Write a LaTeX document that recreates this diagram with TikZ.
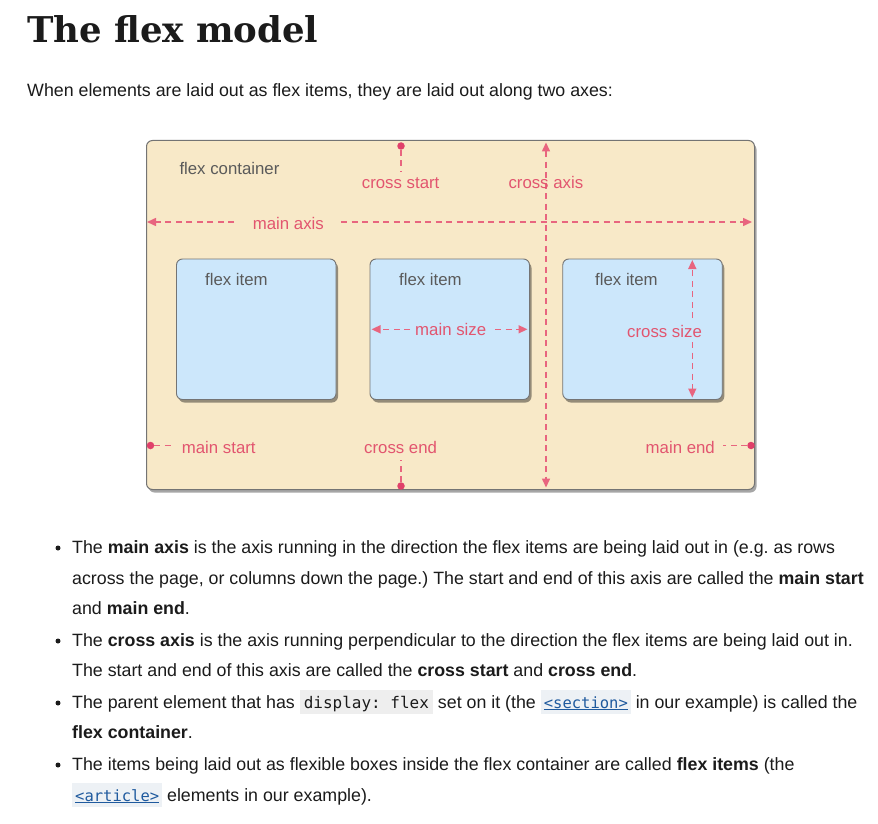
\documentclass[tikz,border=0pt]{standalone}
\usepackage{fontspec}
\setmainfont{Liberation Sans}
\setmonofont{DejaVu Sans Mono}
\newfontfamily\diagfont{Liberation Sans}
\newfontfamily\titlefont{DejaVu Serif}
\usetikzlibrary{shadows,arrows.meta}
\frenchspacing
\definecolor{beige}{HTML}{F8E9C8}
\definecolor{itemblue}{HTML}{CCE7FB}
\definecolor{boxborder}{HTML}{747474}
\definecolor{pinktext}{HTML}{E2556F}
\definecolor{pinkline}{HTML}{E8657F}
\definecolor{pinkdot}{HTML}{E0406A}
\definecolor{graytext}{HTML}{5A5A5A}
\definecolor{bodyc}{HTML}{1B1B1B}
\definecolor{codebg}{HTML}{EEEEEE}
\definecolor{linkbg}{HTML}{EDF1F5}
\definecolor{linkblue}{HTML}{1F5A9E}
\newcommand\mycode[1]{{\setlength{\fboxsep}{0pt}\colorbox{codebg}{\rule[-6pt]{0pt}{24pt}\hspace{4pt}{\ttfamily\fontsize{16}{16}\selectfont #1}\hspace{4pt}}}}
\newcommand\mylink[1]{{\setlength{\fboxsep}{0pt}\colorbox{linkbg}{\rule[-6pt]{0pt}{24pt}\hspace{3pt}{\ttfamily\fontsize{15.5}{15.5}\selectfont\color{linkblue}\underline{#1}}\hspace{3pt}}}}
\tikzset{
  container/.style={draw=boxborder, line width=1pt, fill=beige, rounded corners=6pt,
    minimum width=608pt, minimum height=349pt, inner sep=0pt,
    drop shadow={shadow xshift=2pt, shadow yshift=-3pt, fill=black, opacity=0.35}},
  itembox/.style={draw=boxborder, line width=0.9pt, fill=itemblue, rounded corners=6pt,
    minimum width=159.5pt, minimum height=140.5pt, inner sep=0pt,
    drop shadow={shadow xshift=2pt, shadow yshift=-3pt, fill=black, opacity=0.4}},
  lbl/.style={text=pinktext, font=\diagfont\fontsize{16.8}{18}\selectfont, anchor=base west, inner sep=0pt},
  glbl/.style={text=graytext, font=\diagfont\fontsize{16.8}{18}\selectfont, anchor=base west, inner sep=0pt},
  axisline/.style={draw=pinkline, line width=1.5pt, dash pattern=on 6pt off 4.5pt},
  tipend/.style={-{Triangle[length=9pt,width=8pt]}},
  tipboth/.style={{Triangle[length=9pt,width=8pt]}-{Triangle[length=9pt,width=8pt]}},
  dotn/.style={circle, fill=pinkdot, inner sep=0pt, minimum size=7.5pt},
  bodytext/.style={anchor=base west, inner sep=0pt, text=bodyc, font=\fontsize{17.8}{20}\selectfont},
  bulletdot/.style={circle, fill=bodyc, inner sep=0pt, minimum size=5pt}
}
\begin{document}
\begin{tikzpicture}[x=1pt,y=-1pt]
\path[use as bounding box, fill=white] (0,0) rectangle (878,824);

% title and intro
\node[anchor=base west, inner sep=0pt, text=bodyc, font=\titlefont\bfseries\fontsize{35.5}{40}\selectfont] (title) at (27,43) {The flex model};
\node[bodytext] (intro) at (27,97) {When elements are laid out as flex items, they are laid out along two axes:};

% container and items
\node[container] (cont) at (450.5,315) {};
\node[itembox] (item1) at (256.25,329.25) {};
\node[itembox] (item2) at (449.75,329.25) {};
\node[itembox] (item3) at (642.5,329.25) {};

\node[glbl] (fclbl) at (179.3,175) {flex container};
\node[glbl] (fi1) at (205,285) {flex item};
\node[glbl] (fi2) at (399,285) {flex item};
\node[glbl] (fi3) at (595,285) {flex item};

% main axis
\coordinate (maL) at (147,222);
\coordinate (maA) at (234,222);
\coordinate (maB) at (341,222);
\coordinate (maR) at (752,222);
\draw[axisline, tipend] (maA) -- (maL);
\draw[axisline, tipend] (maB) -- (maR);
\node[lbl] (malbl) at (252.7,229) {main axis};

% cross axis
\coordinate (caT) at (546,142.5);
\coordinate (caB) at (546,487.5);
\draw[axisline, tipboth] (caT) -- (caB);
\node[lbl] (calbl) at (508.3,188.3) {cross axis};

% cross start
\node[dotn] (csd) at (401,146) {};
\coordinate (cse) at (401,171);
\draw[axisline] (csd) -- (cse);
\node[lbl] (cslbl) at (361.7,188.3) {cross start};

% cross end
\node[dotn] (ced) at (401,486) {};
\coordinate (cee) at (401,460);
\draw[axisline] (ced) -- (cee);
\node[lbl] (celbl) at (364,453) {cross end};

% main start
\node[dotn] (msd) at (150.5,445.5) {};
\coordinate (mse) at (173,445.5);
\draw[axisline] (msd) -- (mse);
\node[lbl] (mslbl) at (181.7,453) {main start};

% main end
\node[dotn] (med) at (751,445.5) {};
\coordinate (mee) at (723,445.5);
\draw[axisline] (med) -- (mee);
\node[lbl, anchor=base east] (melbl) at (715,453) {main end};

% main size
\coordinate (mzL) at (371.5,329.3);
\coordinate (mzA) at (410,329.3);
\coordinate (mzB) at (495,329.3);
\coordinate (mzR) at (527.5,329.3);
\draw[axisline, tipend] (mzA) -- (mzL);
\draw[axisline, tipend] (mzB) -- (mzR);
\node[lbl] (mzlbl) at (415,335) {main size};

% cross size
\coordinate (czT) at (692.3,260);
\coordinate (czA) at (692.3,318);
\coordinate (czB) at (692.3,342);
\coordinate (czD) at (692.3,397.5);
\draw[axisline, tipend] (czA) -- (czT);
\draw[axisline, tipend] (czB) -- (czD);
\node[lbl] (czlbl) at (627,337) {cross size};

% bullets
\node[bulletdot] (d1) at (58,548) {};
\node[bodytext] (b1) at (72,553) {The \textbf{main axis} is the axis running in the direction the flex items are being laid out in (e.g. as rows};
\node[bodytext] (b2) at (72,584) {across the page, or columns down the page.) The start and end of this axis are called the \textbf{main start}};
\node[bodytext] (b3) at (72,614) {and \textbf{main end}.};
\node[bulletdot] (d2) at (58,641) {};
\node[bodytext] (b4) at (72,646) {The \textbf{cross axis} is the axis running perpendicular to the direction the flex items are being laid out in.};
\node[bodytext] (b5) at (72,676) {The start and end of this axis are called the \textbf{cross start} and \textbf{cross end}.};
\node[bulletdot] (d3) at (58,703) {};
\node[bodytext] (b6) at (72,708) {The parent element that has \mycode{display: flex} set on it (the \mylink{<section>} in our example) is called the};
\node[bodytext] (b7) at (72,738) {\textbf{flex container}.};
\node[bulletdot] (d4) at (58,765) {};
\node[bodytext] (b8) at (72,770) {The items being laid out as flexible boxes inside the flex container are called \textbf{flex items} (the};
\node[bodytext] (b9) at (72,801) {\mylink{<article>} elements in our example).};
\end{tikzpicture}
\end{document}
